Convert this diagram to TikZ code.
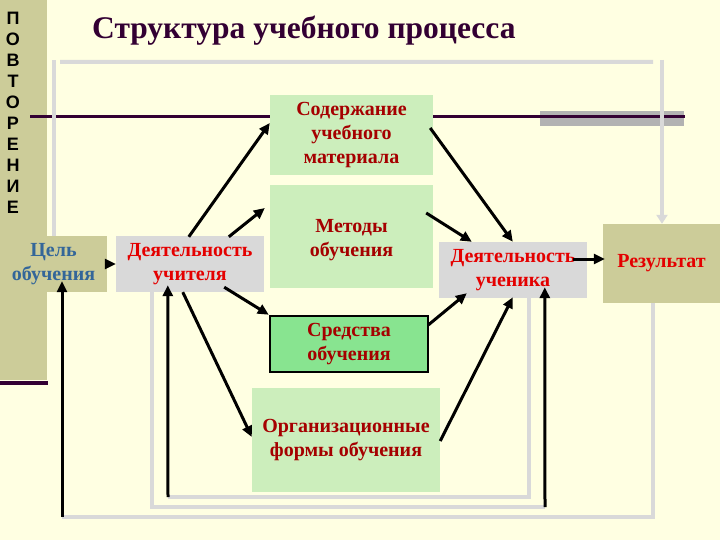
\documentclass[tikz,border=0pt]{standalone}
\usepackage{fontspec}
\setmainfont{Liberation Serif}
\newfontfamily\sansf{Liberation Sans}
\usetikzlibrary{arrows.meta,calc}
\definecolor{bg}{RGB}{255,255,226}
\definecolor{khaki}{RGB}{204,204,153}
\definecolor{boxgray}{RGB}{217,217,217}
\definecolor{lgreen}{RGB}{204,238,188}
\definecolor{mgreen}{RGB}{136,228,144}
\definecolor{ttl}{RGB}{51,0,51}
\definecolor{dred}{RGB}{165,0,0}
\definecolor{bred}{RGB}{228,0,0}
\definecolor{tblue}{RGB}{51,102,153}
\definecolor{lgray}{RGB}{217,217,217}
\definecolor{barg}{RGB}{178,178,178}
\definecolor{purp}{RGB}{51,0,51}
\begin{document}
\begin{tikzpicture}[x=1pt,y=-1pt,
 box/.style={rectangle,inner sep=0pt,align=center,font=\fontsize{20}{24}\selectfont\bfseries},
 arr/.style={line width=3pt,-{Triangle[length=11pt,width=10pt]}},
 gline/.style={line width=4pt,lgray},
 letter/.style={anchor=base,inner sep=0pt,font=\sansf\fontsize{18}{21}\selectfont\bfseries},
]
\fill[bg] (0,0) rectangle (720,540);
\useasboundingbox (0,0) rectangle (720,540);
% left strip
\fill[khaki] (0,0) rectangle (47,380);
\draw[purp,line width=4pt] (0,383) -- (48,383);
\foreach \l [count=\i] in {П,О,В,Т,О,Р,Е,Н,И,Е}
  \node[letter] (rep\i) at (13,{24.5+21*(\i-1)}) {\l};
% title
\node[anchor=base west,inner sep=0pt,text=ttl,font=\fontsize{31.5}{36}\selectfont\bfseries] (title) at (92,39) {Структура учебного процесса};
% decorative bar and line
\fill[barg] (540,111) rectangle (684,126);
\draw[purp,line width=3pt] (30,117) -- (685,117);
% boxes
\node[box,fill=khaki,text=tblue,minimum width=107pt,minimum height=56pt] (cel) at (53.5,264) {Цель\\обучения};
\node[box,fill=boxgray,text=bred,minimum width=148pt,minimum height=56pt] (uch) at (190,264) {Деятельность\\учителя};
\node[box,fill=lgreen,text=dred,minimum width=163pt,minimum height=80pt] (sod) at (351.5,135) {Содержание\\учебного\\материала};
\node[box,fill=lgreen,minimum width=163pt,minimum height=103pt] (met) at (351.5,236.5) {};
\node[box,text=dred] (mettext) at ($(met.center)+(0,3.5)$) {Методы\\обучения};
\node[box,fill=mgreen,text=dred,draw=black,line width=2.5pt,minimum width=158pt,minimum height=56pt] (sred) at (349,344) {Средства\\обучения};
\node[box,fill=lgreen,text=dred,minimum width=188pt,minimum height=104pt] (org) at (346,440) {Организационные\\формы обучения};
\node[box,fill=boxgray,text=bred,minimum width=148pt,minimum height=56pt] (stud) at (513,270) {Деятельность\\ученика};
\node[box,fill=khaki,text=bred,minimum width=117pt,minimum height=79pt] (res) at (661.5,263.5) {Результат};
% feedback coordinates
\coordinate (l1) at (62,517);
\coordinate (l2) at (545,507);
\coordinate (l3) at (168,497);
% gray lines
\draw[gline] (cel.north) -- ++(0,-176);
\draw[gline] ($(cel.north)+(6.5,-174)$) -- (653,62);
\draw[gline,-{Triangle[length=9pt,width=11pt]}] (662,60) -- ($(res.north)+(0.5,0)$);
\draw[gline] ($(res.south)+(-9,0)$) |- (l1);
\draw[gline] ($(uch.south west)+(36,0)$) |- (l2);
\draw[gline] ($(stud.south west)+(90,0)$) |- (l3);
% black arrows
\draw[arr] (cel.east) -- (uch.west);
\draw[arr] ($(uch.north west)+(73,1)$) -- ($(sod.west)+(0,-12)$);
\draw[arr] ($(uch.north west)+(113,1)$) -- ($(met.west)+(-5,-28.5)$);
\draw[arr] ($(uch.south east)+(-40,-5)$) -- (sred.north west);
\draw[arr] ($(uch.south west)+(67,0)$) -- ($(org.west)+(0,-3)$);
\draw[arr] ($(sod.east)+(-3,-7)$) -- ($(stud.north west)+(74,0)$);
\draw[arr] ($(met.east)+(-7,-23.5)$) -- ($(stud.north west)+(33,0)$);
\draw[arr] ($(sred.east)+(-1,-19)$) -- ($(stud.south west)+(28,-5)$);
\draw[arr] ($(org.east)+(0,1)$) -- ($(stud.south west)+(74,-1)$);
\draw[arr] ($(stud.east)+(-14,-11)$) -- ($(res.west)+(2,-4.5)$);
\draw[arr] (l1) -- ($(cel.south)+(8.5,-11)$);
\draw[arr] (l2) -- ($(stud.south west)+(106,-11)$);
\draw[arr] (l3) -- ($(uch.south west)+(52,-7)$);
\end{tikzpicture}
\end{document}
